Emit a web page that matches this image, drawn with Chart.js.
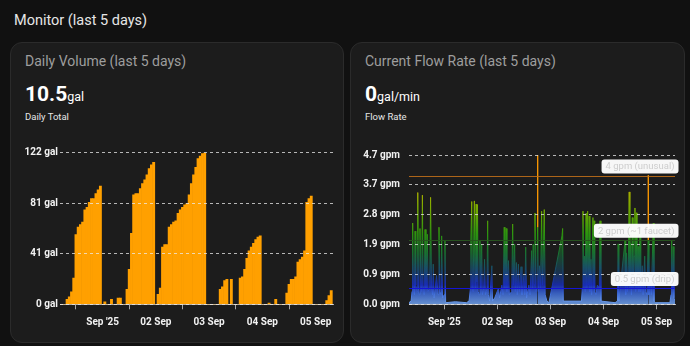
<!DOCTYPE html>
<html><head><meta charset="utf-8">
<script src="https://cdn.jsdelivr.net/npm/chart.js@4.4.0/dist/chart.umd.min.js"></script>
<style>
html,body{margin:0;padding:0;background:#111111;width:690px;height:346px;overflow:hidden;font-family:Roboto,sans-serif;}
#hdr{position:absolute;left:14px;top:14px;font-size:14.5px;line-height:1;color:#e6e6e6;}
.card{position:absolute;top:42px;height:301px;background:#1c1c1c;border:1px solid #2b2b2b;border-radius:12px;box-sizing:border-box;}
.title{position:absolute;left:14px;top:10.7px;font-size:14px;line-height:1;color:#9e9e9e;white-space:nowrap;}
.val{position:absolute;left:14px;top:40.5px;font-size:21px;line-height:1;font-weight:700;color:#fff;white-space:nowrap;}
.val span{font-size:12.5px;font-weight:400;}
.sub{position:absolute;left:14px;top:69px;font-size:9.5px;line-height:1;color:#e6e6e6;}
canvas{position:absolute;}
</style></head>
<body>
<div id="hdr">Monitor (last 5 days)</div>
<div class="card" style="left:10px;width:334px;">
  <div class="title">Daily Volume (last 5 days)</div>
  <div class="val">10.5<span>gal</span></div>
  <div class="sub">Daily Total</div>
</div>
<div class="card" style="left:350px;width:335px;">
  <div class="title">Current Flow Rate (last 5 days)</div>
  <div class="val">0<span>gal/min</span></div>
  <div class="sub">Flow Rate</div>
</div>
<canvas id="vol" width="326" height="200" style="left:14px;top:140px;width:326px;height:200px;"></canvas>
<canvas id="flow" width="325" height="200" style="left:355px;top:140px;width:325px;height:200px;"></canvas>
<script>
// ---- shared x axis (hours relative to 01 Sep 00:00) ----
const dayTickHours = [0, 24, 48, 72, 96];
const dayTickLabels = ["Sep '25", "02 Sep", "03 Sep", "04 Sep", "05 Sep"];

// ---- Daily volume (gal), hourly, starting 31 Aug 05:00 ----
const volStartHour = -19;
const volAug31 = [0,0,0,4,6,10,21,56,62,64,66,76,78,82,85,85,89,92,95];
const volSep01 = [0,2,0,0,4,0,0,5,5,0,0,12,28,57,88,89,89,93,97,100,104,109,112,114];
const volSep02 = [0,8,13,46,48,48,62,64,66,67,73,76,78,80,81,88,97,104,110,117,119,121,122,0];
const volSep03 = [0,0,0,0,0,12,14,19,20,0,20,0,0,0,21,22,28,37,43,46,49,52,54,55];
const volSep04 = [0,0,0,1,0,0,4,0,0,0,0,9,16,20,20,22,34,36,38,43,82,85,87,0];
const volSep05 = [0,0,0,0,0,3,7,11];
const volTickValues = [0, 40.6, 81.2, 121.8];
const volTickLabels = ['0 gal', '41 gal', '81 gal', '122 gal'];

// ---- Flow rate (gpm) samples: hour, value ----
const flowHours = [
 -16.0,-15.0,-14.6,-14.3,-14.0,-13.5,-13.2,-12.9,-12.3,-12.0,-11.7,-11.3,-11.0,-10.6,-10.2,-9.9,-9.6,-9.1,-8.7,-8.3,-8.0,-7.7,-7.3,-6.6,-6.2,-5.8,-5.3,-5.0,-4.6,-3.5,-2.8,-2.4,-2.0,-1.5,-1.2,-0.8,0.0,0.3,0.6,5.0,10.0,
 11.2,11.8,12.0,12.4,12.7,13.0,13.6,13.9,14.1,14.4,14.7,15.0,15.3,15.8,16.1,16.4,16.9,17.2,17.8,18.2,18.6,19.3,19.6,19.9,20.5,21.5,21.8,22.8,24.5,25.0,26.0,26.6,27.1,27.4,28.0,28.3,29.0,29.4,30.5,30.9,31.3,31.8,32.1,32.6,33.0,33.5,33.9,34.7,35.1,36.0,36.4,36.8,37.2,38.2,38.8,39.5,39.9,40.2,40.6,41.0,41.4,41.9,42.15,42.2,42.25,42.5,43.0,43.5,44.0,44.4,45.2,45.6,46.4,47.3,
 53.2,53.5,53.8,62.0,62.4,62.7,63.0,63.4,63.7,64.1,64.4,64.8,65.1,65.5,65.8,66.3,66.6,67.2,67.5,67.7,68.0,68.5,69.2,70.1,70.4,70.8,77.2,78.3,78.6,78.9,
 81.7,82.0,82.4,82.8,83.2,83.6,83.9,84.3,84.6,85.0,85.3,85.8,86.2,86.5,86.8,87.1,87.6,88.0,88.5,88.8,89.5,89.9,90.6,91.0,91.6,92.15,92.2,92.25,92.5,93.3,93.6,94.5,94.8,95.5,102.0,102.5,102.8,103.1,103.5,103.8,104.3
];
const flowValues = [
 0.05,0.1,0.4,2.53,0.5,0.3,2.28,0.6,0.4,3.48,0.5,0.3,2.36,0.8,0.4,3.4,0.6,0.3,2.33,0.5,1.2,2.18,0.4,0.5,3.33,0.6,0.3,1.25,0.2,0.9,0.3,2.4,0.4,0.3,2.13,0.2,0.3,1.97,0.05,0.08,0.05,
 0.1,0.5,2.0,3.2,0.6,0.4,3.22,0.8,0.5,3.12,0.7,3.1,0.4,0.3,1.97,0.5,1.87,0.3,0.5,1.4,0.3,0.5,2.6,0.3,0.1,1.2,0.1,0.2,0.5,0.2,0.6,0.3,2.4,0.5,2.36,0.4,1.36,0.3,0.4,2.5,0.6,1.87,0.4,1.3,0.3,1.25,0.4,1.17,0.3,0.9,0.3,1.78,0.2,0.6,0.3,1.67,0.5,1.87,0.6,2.84,0.4,0.5,2.4,4.65,2.4,0.4,1.2,0.5,2.9,0.6,2.95,0.3,0.1,0.05,
 2.13,2.36,0.1,0.1,0.5,2.9,0.6,1.5,0.4,2.83,0.5,2.9,0.6,2.75,0.4,1.4,0.3,2.7,0.5,2.6,0.4,0.3,0.6,0.5,2.6,0.1,0.05,0.1,1.88,0.1,
 1.97,0.3,1.6,0.4,1.2,3.5,0.5,1.9,0.3,2.7,0.5,1.5,3.0,0.4,2.85,0.5,1.8,0.4,2.3,0.4,1.2,0.3,1.5,0.4,0.3,2.0,4.02,2.0,0.3,1.0,0.3,2.53,0.1,0.05,0.05,0.3,1.97,0.5,1.8,0.2,0.1
];
const flowTickValues = [0, 0.93, 1.86, 2.79, 3.72, 4.65];
const flowTickLabels = ['0.0 gpm', '0.9 gpm', '1.9 gpm', '2.8 gpm', '3.7 gpm', '4.7 gpm'];
const thresholdValues = [4, 2, 0.5];
const thresholdLabels = ['4 gpm (unusual)', '2 gpm (~1 faucet)', '0.5 gpm (drip)'];
const thresholdColors = ['rgba(190,110,25,0.9)', 'rgba(40,85,32,0.95)', 'rgba(20,20,215,1)'];
const unusualColor = 'rgb(255,155,0)';
// gradient stops: [gpm, r, g, b]
const flowColorStops = [[0,115,165,240],[0.35,60,105,215],[0.6,25,45,185],[1.0,25,70,120],[1.6,25,115,50],[2.2,45,150,15],[3.0,120,170,0],[3.5,170,175,0],[3.9,235,150,0],[4.65,255,150,0]];

Chart.defaults.font.family = 'Roboto';
Chart.defaults.color = '#ffffff';

const tickFont = {family:'Roboto', size:10, weight:'bold'};

function xAxis(min, max, h){
  return {
    type:'linear', min:min, max:max, offset:false,
    afterBuildTicks: s => { s.ticks = dayTickHours.map(v => ({value:v})); },
    ticks:{ callback:(v,i)=>dayTickLabels[i], color:'#f2f2f2', font:tickFont, padding:7, maxRotation:0, autoSkip:false },
    grid:{ drawOnChartArea:false, drawTicks:true, tickLength:5, color:'#a8a8a8' },
    border:{ display:true, color:'#b5b5b5' },
    afterFit: s => { s.height = h; }
  };
}
function yAxis(vals, labels, w, pad){
  return {
    min:vals[0], max:vals[vals.length-1],
    afterBuildTicks: s => { s.ticks = vals.map(v => ({value:v})); },
    ticks:{ callback:(v,i)=>labels[i], color:'#f2f2f2', font:tickFont, padding:pad },
    grid:{ color:'rgba(235,235,235,0.75)', drawTicks:false, z:1 },
    border:{ display:false, dash:[3,3] },
    afterFit: s => { s.width = w; }
  };
}

const volValues = [].concat(volAug31, volSep01, volSep02, volSep03, volSep04, volSep05);
new Chart(document.getElementById('vol'), {
  type:'bar',
  data:{ datasets:[{ data: volValues.map((v,i)=>({x: volStartHour + i, y: v})), backgroundColor:'#ffa000', borderWidth:0, categoryPercentage:1, barPercentage:1 }] },
  options:{
    responsive:false, animation:false, maintainAspectRatio:false,
    layout:{ padding:{ left:0, right:7, top:12.7, bottom:0 } },
    plugins:{ legend:{display:false}, tooltip:{enabled:false} },
    scales:{ x: xAxis(-19.2, 103.8, 35.7), y: yAxis(volTickValues, volTickLabels, 46, 2) }
  }
});

function flowGrad(chart, alpha){
  const a = chart.chartArea; if(!a) return 'rgba(0,0,0,0)';
  const y = chart.scales.y; const top = flowTickValues[flowTickValues.length-1];
  const g = chart.ctx.createLinearGradient(0, y.getPixelForValue(0), 0, y.getPixelForValue(top));
  flowColorStops.forEach(s => g.addColorStop(s[0]/top, `rgba(${s[1]},${s[2]},${s[3]},${typeof alpha==='function'?alpha(s[0]):alpha})`));
  return g;
}
const thresholdPlugin = {
  id:'thresholds',
  afterDatasetsDraw(chart){
    const ctx = chart.ctx, a = chart.chartArea, y = chart.scales.y;
    ctx.save();
    thresholdValues.forEach((v,i) => {
      const py = Math.round(y.getPixelForValue(v)) + 0.5;
      ctx.strokeStyle = thresholdColors[i]; ctx.lineWidth = 1;
      ctx.beginPath(); ctx.moveTo(a.left, py); ctx.lineTo(a.right, py); ctx.stroke();
    });
    ctx.font = '9.5px Roboto';
    thresholdValues.forEach((v,i) => {
      const py = y.getPixelForValue(v);
      const w = ctx.measureText(thresholdLabels[i]).width + 8, h = 14;
      const x1 = a.right + 3.5 - w, y1 = py - 2.3 - h;
      ctx.fillStyle = 'rgba(255,255,255,0.97)';
      ctx.beginPath(); ctx.roundRect(x1, y1, w, h, 3); ctx.fill();
      ctx.fillStyle = '#cdcdcd'; ctx.textBaseline = 'middle'; ctx.textAlign = 'left';
      ctx.fillText(thresholdLabels[i], x1 + 4, y1 + h/2 + 0.5);
    });
    ctx.restore();
  }
};
new Chart(document.getElementById('flow'), {
  type:'line',
  data:{ datasets:[{ data: flowHours.map((h,i)=>({x:h, y:flowValues[i]})),
    borderColor: c => flowGrad(c.chart, 1),
    backgroundColor: c => flowGrad(c.chart, v => v < 0.7 ? 0.85 : 0.55),
    segment:{ borderColor: s => (s.p0.parsed.y > thresholdValues[0] || s.p1.parsed.y > thresholdValues[0]) ? unusualColor : undefined },
    fill:'origin', borderWidth:1, pointRadius:0, tension:0 }] },
  options:{
    responsive:false, animation:false, maintainAspectRatio:false,
    layout:{ padding:{ left:0, right:5, top:12.7, bottom:0 } },
    plugins:{ legend:{display:false}, tooltip:{enabled:false} },
    scales:{ x: xAxis(-15.96, 104.3, 35.7), y: yAxis(flowTickValues, flowTickLabels, 54, 9) }
  },
  plugins:[thresholdPlugin]
});
</script>
</body></html>
